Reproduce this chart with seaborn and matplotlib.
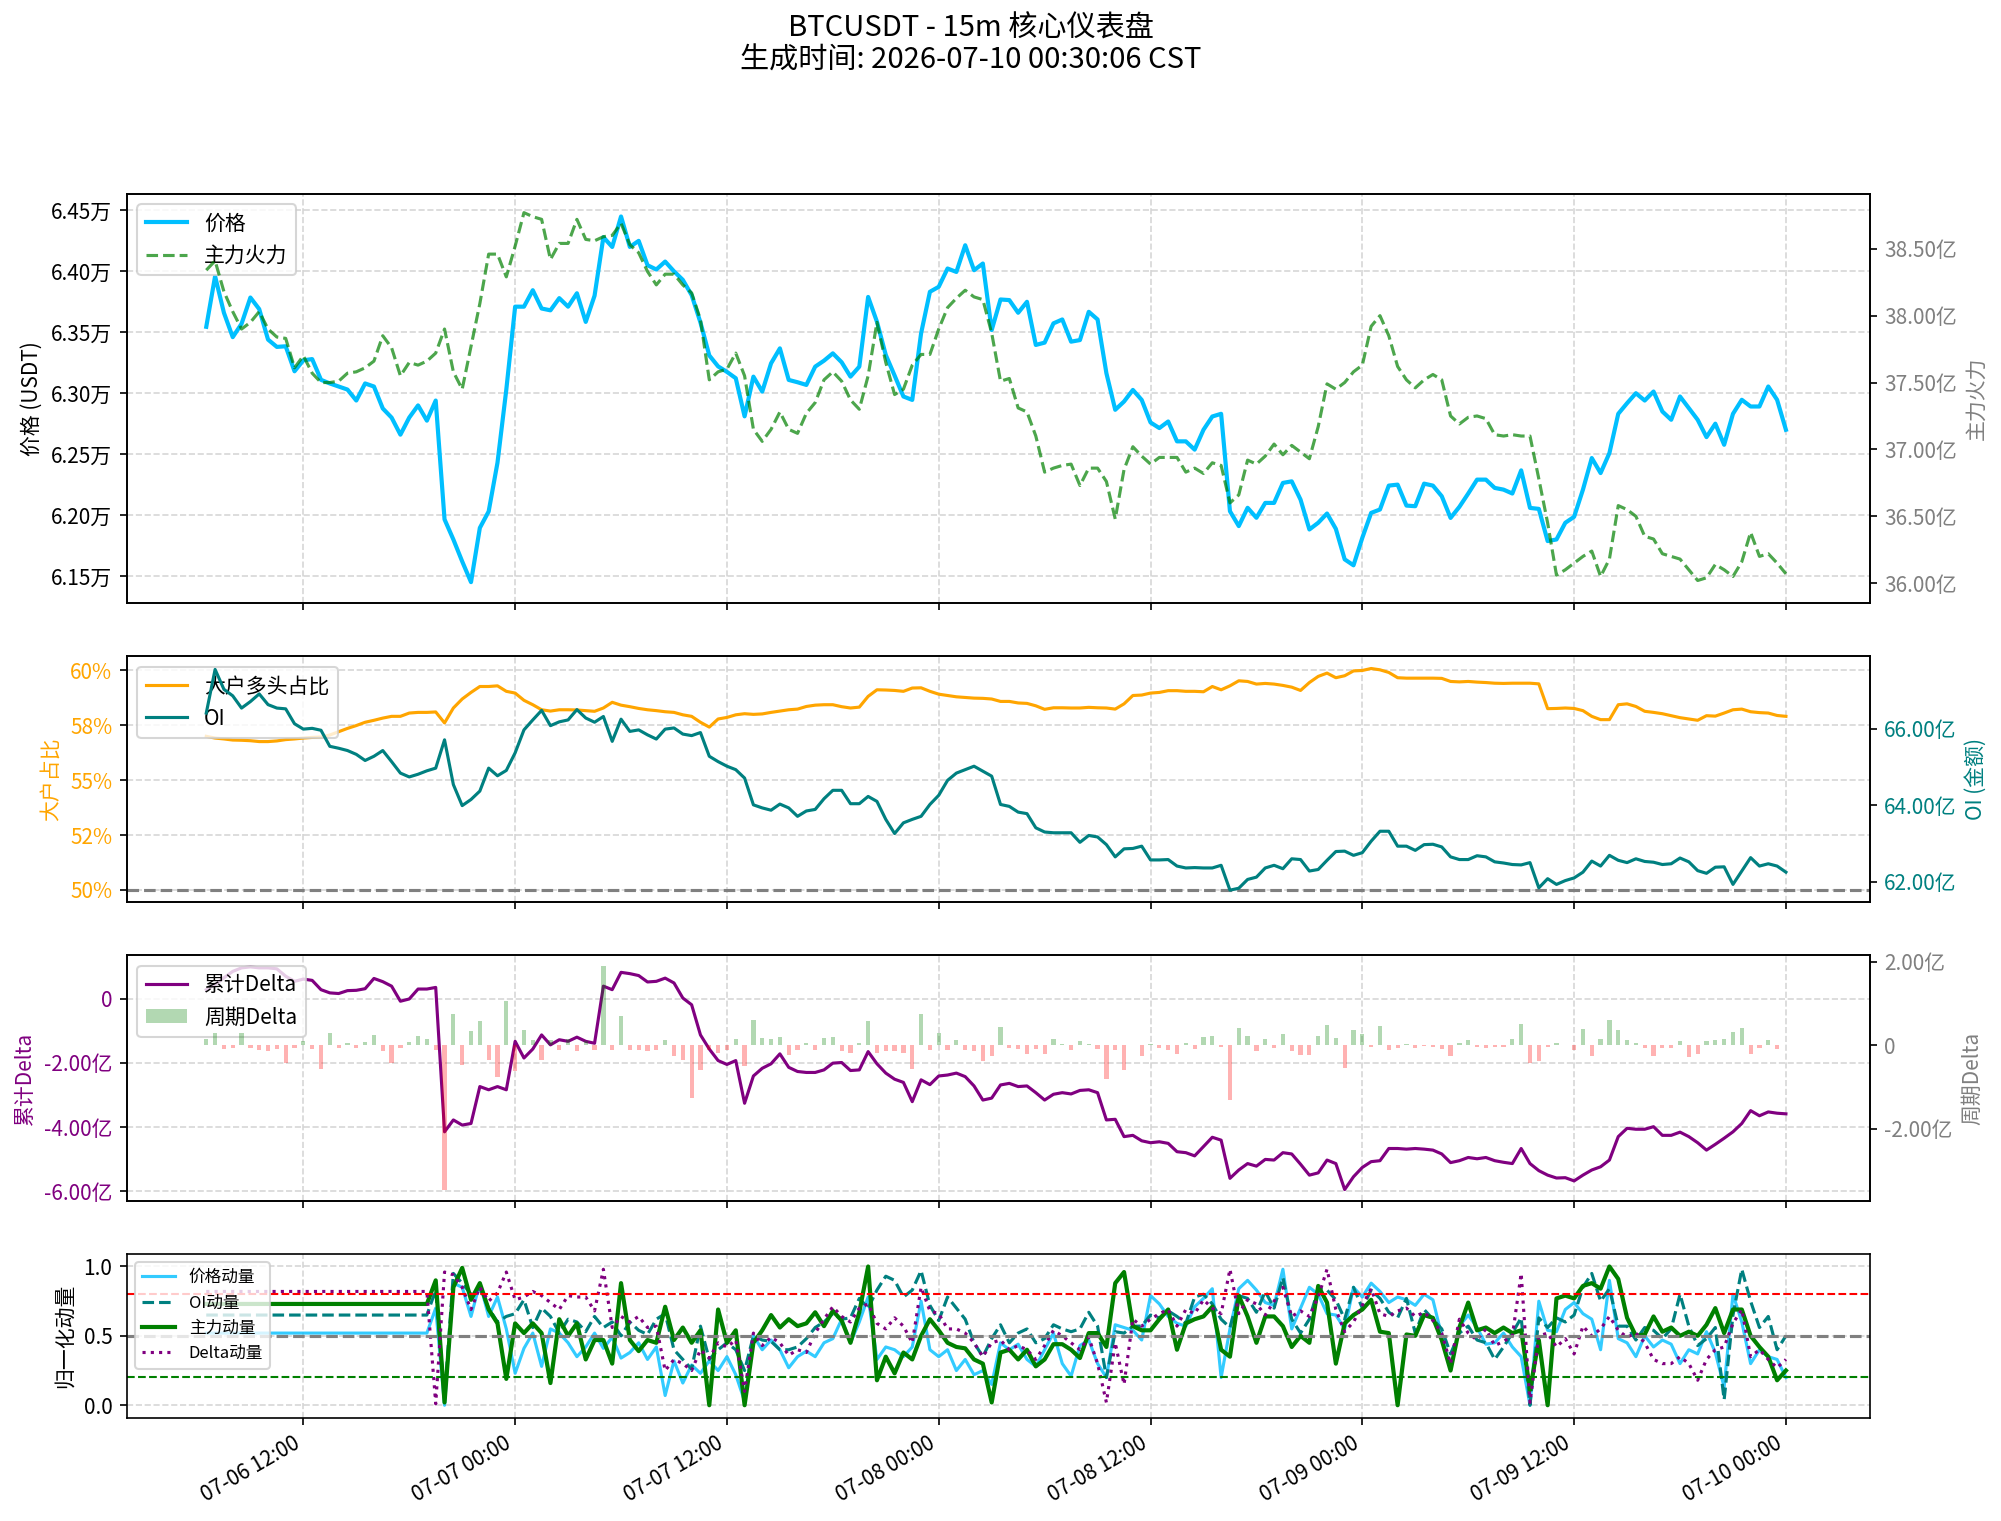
import numpy as np
import pandas as pd
import matplotlib
matplotlib.use("Agg")
import matplotlib.pyplot as plt
import matplotlib.dates as mdates
from matplotlib.ticker import FuncFormatter, MultipleLocator
import seaborn as sns

plt.rcParams['font.family'] = ['Noto Sans CJK SC', 'DejaVu Sans']
plt.rcParams['axes.unicode_minus'] = False

# 30 分钟采样, 2026-07-06 06:30 起
price = [
    63545, 63960, 63660, 63460, 63570, 63785, 63690, 63440, 63380, 63385,
    63180, 63270, 63280, 63110, 63080, 63055, 63030, 62940, 63080, 63055,
    62875, 62800, 62660, 62800, 62900, 62775, 62940, 61965, 61800, 61620,
    61450, 61895, 62030, 62430, 63030, 63710, 63710, 63845, 63695, 63680,
    63780, 63710, 63820, 63585, 63800, 64280, 64200, 64450, 64200, 64250,
    64050, 64015, 64080, 64000, 63930, 63805, 63580, 63310, 63220, 63175,
    63123, 62810, 63136, 63013, 63245, 63368, 63109, 63090, 63068, 63218,
    63267, 63327, 63254, 63136, 63218, 63790, 63586, 63314, 63145, 62973,
    62945, 63491, 63832, 63873, 64023, 63995, 64214, 64009, 64064, 63518,
    63769, 63764, 63660, 63750, 63396, 63415, 63573, 63605, 63423, 63436,
    63668, 63605, 63164, 62864, 62932, 63027, 62945, 62760, 62714, 62768,
    62605, 62605, 62537, 62700, 62809, 62831, 62032, 61910, 62060, 61978,
    62100, 62100, 62264, 62277, 62127, 61882, 61937, 62013, 61887, 61637,
    61588, 61814, 62018, 62046, 62242, 62250, 62078, 62073, 62258, 62242,
    62155, 61977, 62068, 62177, 62291, 62291, 62223, 62209, 62177, 62367,
    62059, 62051, 61787, 61800, 61937, 61986, 62209, 62468, 62345, 62509,
    62831, 62918, 63000, 62940, 63014, 62850, 62782, 62973, 62877, 62782,
    62640, 62750, 62577, 62831, 62946, 62891, 62891, 63055, 62946, 62700,
]

main_force_yi = [
    38.34, 38.41, 38.18, 38.03, 37.90, 37.95, 38.03, 37.90, 37.84, 37.83,
    37.61, 37.70, 37.57, 37.50, 37.50, 37.51, 37.57, 37.58, 37.61, 37.66,
    37.85, 37.76, 37.55, 37.65, 37.63, 37.66, 37.72, 37.90, 37.58, 37.45,
    37.77, 38.09, 38.46, 38.46, 38.29, 38.52, 38.77, 38.74, 38.72, 38.42,
    38.54, 38.54, 38.72, 38.57, 38.56, 38.59, 38.60, 38.69, 38.53, 38.47,
    38.33, 38.23, 38.31, 38.31, 38.23, 38.17, 37.97, 37.52, 37.58, 37.60,
    37.72, 37.55, 37.15, 37.06, 37.15, 37.28, 37.15, 37.12, 37.27, 37.35,
    37.52, 37.58, 37.51, 37.37, 37.30, 37.55, 37.95, 37.65, 37.41, 37.45,
    37.63, 37.71, 37.71, 37.90, 38.06, 38.13, 38.19, 38.14, 38.12, 37.87,
    37.51, 37.53, 37.31, 37.28, 37.10, 36.83, 36.86, 36.88, 36.89, 36.73,
    36.86, 36.86, 36.76, 36.48, 36.85, 37.02, 36.95, 36.89, 36.94, 36.94,
    36.94, 36.83, 36.86, 36.82, 36.90, 36.88, 36.60, 36.66, 36.92, 36.89,
    36.95, 37.04, 36.96, 37.03, 36.98, 36.93, 37.17, 37.49, 37.45, 37.50,
    37.58, 37.63, 37.92, 38.00, 37.85, 37.62, 37.52, 37.46, 37.52, 37.56,
    37.52, 37.25, 37.19, 37.24, 37.25, 37.23, 37.11, 37.10, 37.11, 37.10,
    37.10, 36.78, 36.45, 36.06, 36.10, 36.15, 36.20, 36.24, 36.05, 36.18,
    36.58, 36.55, 36.50, 36.35, 36.33, 36.22, 36.20, 36.18, 36.10, 36.02,
    36.04, 36.14, 36.10, 36.05, 36.16, 36.38, 36.20, 36.22, 36.15, 36.07,
]

long_ratio = [
    57.00, 56.92, 56.88, 56.83, 56.82, 56.80, 56.76, 56.76, 56.79, 56.85,
    56.88, 56.92, 56.95, 56.97, 57.06, 57.21, 57.36, 57.49, 57.64, 57.73,
    57.83, 57.91, 57.91, 58.06, 58.09, 58.09, 58.11, 57.61, 58.29, 58.70,
    59.00, 59.27, 59.27, 59.30, 59.05, 58.97, 58.64, 58.44, 58.21, 58.15,
    58.21, 58.21, 58.20, 58.17, 58.14, 58.29, 58.55, 58.42, 58.35, 58.27,
    58.21, 58.17, 58.12, 58.09, 57.98, 57.91, 57.64, 57.42, 57.79, 57.86,
    57.98, 58.03, 58.00, 58.02, 58.09, 58.15, 58.21, 58.24, 58.36, 58.42,
    58.44, 58.44, 58.35, 58.29, 58.33, 58.82, 59.12, 59.11, 59.09, 59.05,
    59.20, 59.21, 59.05, 58.92, 58.86, 58.80, 58.77, 58.74, 58.73, 58.70,
    58.59, 58.59, 58.52, 58.50, 58.39, 58.23, 58.30, 58.30, 58.29, 58.29,
    58.32, 58.30, 58.29, 58.24, 58.48, 58.86, 58.88, 58.97, 59.00, 59.08,
    59.08, 59.05, 59.05, 59.03, 59.27, 59.12, 59.30, 59.53, 59.50, 59.38,
    59.41, 59.38, 59.32, 59.24, 59.09, 59.45, 59.73, 59.88, 59.67, 59.76,
    59.98, 60.00, 60.09, 60.03, 59.91, 59.67, 59.65, 59.65, 59.65, 59.65,
    59.64, 59.50, 59.48, 59.50, 59.47, 59.45, 59.42, 59.41, 59.42, 59.42,
    59.42, 59.39, 58.26, 58.27, 58.29, 58.27, 58.17, 57.91, 57.76, 57.76,
    58.44, 58.48, 58.36, 58.14, 58.09, 58.03, 57.94, 57.85, 57.79, 57.73,
    57.94, 57.92, 58.06, 58.21, 58.24, 58.12, 58.08, 58.06, 57.95, 57.91,
]

oi_yi = [
    66.41, 67.55, 67.03, 66.86, 66.54, 66.71, 66.91, 66.63, 66.54, 66.52,
    66.13, 65.99, 66.01, 65.96, 65.54, 65.49, 65.43, 65.33, 65.17, 65.28,
    65.43, 65.14, 64.84, 64.74, 64.81, 64.90, 64.97, 65.71, 64.54, 63.99,
    64.15, 64.37, 64.97, 64.77, 64.91, 65.37, 65.97, 66.23, 66.48, 66.08,
    66.18, 66.23, 66.50, 66.28, 66.17, 66.32, 65.67, 66.25, 65.93, 65.97,
    65.84, 65.73, 65.99, 66.02, 65.86, 65.82, 65.90, 65.28, 65.14, 65.02,
    64.93, 64.71, 64.01, 63.93, 63.87, 64.03, 63.93, 63.71, 63.85, 63.89,
    64.17, 64.39, 64.39, 64.04, 64.04, 64.23, 64.10, 63.63, 63.26, 63.54,
    63.63, 63.71, 64.02, 64.26, 64.65, 64.84, 64.93, 65.02, 64.89, 64.76,
    64.02, 63.97, 63.82, 63.78, 63.41, 63.30, 63.28, 63.28, 63.28, 63.03,
    63.21, 63.17, 62.97, 62.65, 62.86, 62.87, 62.93, 62.57, 62.57, 62.58,
    62.41, 62.36, 62.37, 62.36, 62.36, 62.43, 61.78, 61.83, 62.06, 62.12,
    62.36, 62.43, 62.34, 62.60, 62.58, 62.28, 62.32, 62.56, 62.79, 62.80,
    62.69, 62.76, 63.06, 63.32, 63.32, 62.93, 62.93, 62.82, 62.97, 62.98,
    62.91, 62.65, 62.58, 62.58, 62.68, 62.65, 62.52, 62.49, 62.45, 62.44,
    62.50, 61.84, 62.08, 61.93, 62.03, 62.10, 62.25, 62.54, 62.41, 62.69,
    62.56, 62.50, 62.60, 62.53, 62.51, 62.45, 62.47, 62.62, 62.52, 62.29,
    62.22, 62.38, 62.39, 61.93, 62.28, 62.63, 62.41, 62.47, 62.41, 62.25,
]

cum_delta_yi = [
    0.28, 0.44, 0.65, 0.85, 0.96, 0.99, 0.96, 0.96, 0.93, 0.70,
    0.54, 0.61, 0.57, 0.28, 0.18, 0.16, 0.25, 0.26, 0.31, 0.63,
    0.53, 0.39, -0.08, -0.01, 0.30, 0.30, 0.35, -4.15, -3.78, -3.94,
    -3.89, -2.74, -2.84, -2.74, -2.84, -1.33, -1.85, -1.57, -1.13, -1.44,
    -1.28, -1.33, -1.20, -1.33, -1.39, 0.39, 0.28, 0.82, 0.78, 0.72,
    0.52, 0.54, 0.64, 0.49, 0.02, -0.19, -1.13, -1.57, -1.93, -2.05,
    -1.93, -3.26, -2.41, -2.17, -2.03, -1.72, -2.14, -2.27, -2.30, -2.30,
    -2.22, -2.01, -1.99, -2.24, -2.22, -1.65, -2.03, -2.32, -2.51, -2.61,
    -3.21, -2.53, -2.68, -2.41, -2.38, -2.32, -2.43, -2.72, -3.16, -3.10,
    -2.69, -2.64, -2.74, -2.72, -2.93, -3.16, -2.98, -2.93, -2.97, -2.86,
    -2.84, -2.93, -3.78, -3.76, -4.30, -4.26, -4.43, -4.49, -4.46, -4.51,
    -4.77, -4.80, -4.90, -4.61, -4.32, -4.41, -5.60, -5.34, -5.14, -5.22,
    -5.01, -5.03, -4.80, -4.84, -5.16, -5.50, -5.43, -5.03, -5.14, -5.95,
    -5.55, -5.26, -5.08, -5.05, -4.67, -4.67, -4.69, -4.67, -4.69, -4.72,
    -4.84, -5.11, -5.05, -4.95, -4.99, -4.95, -5.05, -5.10, -5.14, -4.67,
    -5.14, -5.36, -5.50, -5.59, -5.58, -5.68, -5.50, -5.34, -5.24, -5.03,
    -4.30, -4.04, -4.07, -4.07, -3.99, -4.26, -4.26, -4.16, -4.30, -4.49,
    -4.72, -4.54, -4.35, -4.15, -3.89, -3.49, -3.65, -3.53, -3.57, -3.59,
]

period_delta_yi = [
    0.15, 0.30, -0.09, -0.05, 0.30, -0.06, -0.10, -0.14, -0.08, -0.41,
    -0.05, 0.10, -0.08, -0.57, 0.30, -0.06, 0.05, -0.05, 0.08, 0.26,
    -0.14, -0.41, -0.05, 0.08, 0.23, 0.15, -0.10, -3.45, 0.76, -0.46,
    0.34, 0.58, -0.34, -0.76, 1.06, -0.62, 0.38, 0.14, -0.34, 0.14,
    -0.10, 0.15, -0.14, 0.10, -0.10, 1.90, -0.10, 0.70, -0.10, -0.10,
    -0.14, -0.10, 0.14, -0.26, -0.36, -1.26, -0.60, -0.10, -0.18, -0.10,
    0.15, -0.50, 0.62, 0.18, 0.15, 0.20, -0.22, -0.10, 0.07, -0.10,
    0.18, 0.20, -0.14, -0.17, 0.06, 0.58, -0.18, -0.14, -0.14, -0.18,
    -0.57, 0.76, -0.10, 0.30, -0.10, 0.12, -0.10, -0.14, -0.38, -0.26,
    0.44, -0.06, -0.09, -0.20, -0.09, -0.20, 0.15, 0.04, -0.10, 0.10,
    0.03, -0.09, -0.81, -0.10, -0.58, 0.02, -0.25, 0.03, -0.06, -0.10,
    -0.20, 0.06, -0.09, 0.20, 0.23, -0.04, -1.30, 0.42, 0.22, -0.14,
    0.15, -0.06, 0.28, -0.14, -0.22, -0.22, 0.23, 0.50, 0.18, -0.54,
    0.38, 0.28, -0.04, 0.46, -0.10, -0.06, 0.04, -0.06, -0.02, -0.04,
    -0.09, -0.26, 0.06, 0.14, -0.04, -0.06, -0.04, -0.04, 0.15, 0.52,
    -0.41, -0.38, -0.04, 0.06, 0.02, -0.10, 0.39, -0.25, 0.15, 0.60,
    0.36, 0.12, 0.07, -0.06, -0.25, -0.06, -0.06, 0.10, -0.28, -0.20,
    0.10, 0.12, 0.15, 0.31, 0.42, -0.20, -0.06, 0.14, -0.09, 0.02,
]

mom_price = [
    0.52, 0.52, 0.52, 0.52, 0.52, 0.52, 0.52, 0.52, 0.52, 0.52,
    0.52, 0.52, 0.52, 0.52, 0.52, 0.52, 0.52, 0.52, 0.52, 0.52,
    0.52, 0.52, 0.52, 0.52, 0.52, 0.52, 0.70, 0.00, 0.88, 0.85,
    0.64, 0.88, 0.64, 0.78, 0.55, 0.23, 0.41, 0.52, 0.28, 0.55,
    0.52, 0.45, 0.35, 0.42, 0.52, 0.41, 0.49, 0.34, 0.38, 0.45,
    0.33, 0.42, 0.07, 0.32, 0.16, 0.29, 0.23, 0.32, 0.25, 0.35,
    0.22, 0.03, 0.50, 0.40, 0.47, 0.40, 0.27, 0.35, 0.39, 0.35,
    0.45, 0.48, 0.62, 0.45, 0.60, 0.78, 0.33, 0.42, 0.40, 0.35,
    0.42, 0.75, 0.40, 0.35, 0.40, 0.25, 0.33, 0.22, 0.25, 0.15,
    0.45, 0.40, 0.44, 0.33, 0.28, 0.40, 0.52, 0.30, 0.21, 0.43,
    0.47, 0.30, 0.20, 0.58, 0.56, 0.54, 0.47, 0.79, 0.73, 0.64,
    0.59, 0.57, 0.71, 0.77, 0.84, 0.20, 0.55, 0.84, 0.90, 0.83,
    0.74, 0.72, 0.98, 0.55, 0.70, 0.85, 0.80, 0.66, 0.65, 0.55,
    0.85, 0.78, 0.88, 0.82, 0.74, 0.78, 0.76, 0.72, 0.80, 0.76,
    0.50, 0.26, 0.57, 0.65, 0.56, 0.44, 0.45, 0.52, 0.42, 0.35,
    0.00, 0.75, 0.54, 0.53, 0.69, 0.74, 0.66, 0.62, 0.40, 0.90,
    0.48, 0.45, 0.35, 0.50, 0.42, 0.47, 0.44, 0.30, 0.40, 0.37,
    0.53, 0.38, 0.13, 0.80, 0.60, 0.30, 0.40, 0.35, 0.33, 0.20,
]

mom_oi = [
    0.65, 0.65, 0.65, 0.65, 0.65, 0.65, 0.65, 0.65, 0.65, 0.65,
    0.65, 0.65, 0.65, 0.65, 0.65, 0.65, 0.65, 0.65, 0.65, 0.65,
    0.65, 0.65, 0.65, 0.65, 0.65, 0.65, 0.83, 0.05, 0.95, 0.88,
    0.80, 0.84, 0.70, 0.60, 0.64, 0.66, 0.76, 0.56, 0.70, 0.64,
    0.52, 0.62, 0.60, 0.53, 0.64, 0.56, 0.60, 0.50, 0.60, 0.54,
    0.51, 0.62, 0.66, 0.40, 0.33, 0.26, 0.57, 0.33, 0.40, 0.45,
    0.40, 0.25, 0.50, 0.47, 0.46, 0.40, 0.40, 0.42, 0.48, 0.56,
    0.60, 0.66, 0.62, 0.63, 0.77, 0.70, 0.83, 0.93, 0.90, 0.78,
    0.83, 0.97, 0.72, 0.61, 0.78, 0.70, 0.62, 0.45, 0.35, 0.48,
    0.58, 0.45, 0.52, 0.55, 0.45, 0.48, 0.58, 0.55, 0.53, 0.55,
    0.67, 0.57, 0.20, 0.53, 0.52, 0.57, 0.57, 0.65, 0.63, 0.68,
    0.64, 0.59, 0.78, 0.80, 0.73, 0.62, 0.56, 0.79, 0.77, 0.67,
    0.82, 0.70, 0.92, 0.62, 0.52, 0.62, 0.84, 0.83, 0.76, 0.62,
    0.85, 0.70, 0.83, 0.77, 0.67, 0.63, 0.77, 0.52, 0.69, 0.62,
    0.55, 0.37, 0.52, 0.57, 0.47, 0.45, 0.33, 0.42, 0.52, 0.63,
    0.00, 0.63, 0.56, 0.63, 0.60, 0.65, 0.85, 0.95, 0.75, 0.84,
    0.57, 0.57, 0.47, 0.56, 0.54, 0.48, 0.55, 0.80, 0.57, 0.43,
    0.48, 0.56, 0.04, 0.65, 0.98, 0.75, 0.56, 0.64, 0.40, 0.50,
]

mom_main = [
    0.73, 0.73, 0.73, 0.73, 0.73, 0.73, 0.73, 0.73, 0.73, 0.73,
    0.73, 0.73, 0.73, 0.73, 0.73, 0.73, 0.73, 0.73, 0.73, 0.73,
    0.73, 0.73, 0.73, 0.73, 0.73, 0.73, 0.90, 0.02, 0.85, 0.99,
    0.76, 0.88, 0.69, 0.59, 0.19, 0.59, 0.52, 0.59, 0.52, 0.16,
    0.62, 0.50, 0.59, 0.33, 0.47, 0.47, 0.30, 0.88, 0.47, 0.39,
    0.47, 0.45, 0.71, 0.47, 0.56, 0.45, 0.54, 0.00, 0.69, 0.45,
    0.54, 0.00, 0.45, 0.54, 0.65, 0.56, 0.62, 0.57, 0.59, 0.67,
    0.57, 0.68, 0.61, 0.45, 0.67, 1.00, 0.18, 0.35, 0.23, 0.38,
    0.33, 0.50, 0.62, 0.54, 0.45, 0.42, 0.41, 0.33, 0.30, 0.02,
    0.38, 0.40, 0.33, 0.40, 0.28, 0.33, 0.44, 0.44, 0.40, 0.34,
    0.52, 0.52, 0.42, 0.88, 0.96, 0.57, 0.54, 0.54, 0.62, 0.69,
    0.40, 0.59, 0.62, 0.64, 0.71, 0.40, 0.35, 0.79, 0.64, 0.45,
    0.64, 0.64, 0.57, 0.42, 0.50, 0.45, 0.86, 0.74, 0.30, 0.59,
    0.65, 0.69, 0.76, 0.53, 0.52, 0.00, 0.51, 0.50, 0.65, 0.63,
    0.47, 0.25, 0.56, 0.74, 0.54, 0.56, 0.52, 0.56, 0.52, 0.54,
    0.11, 0.47, 0.00, 0.77, 0.79, 0.77, 0.86, 0.88, 0.84, 1.00,
    0.91, 0.63, 0.50, 0.51, 0.64, 0.53, 0.56, 0.50, 0.53, 0.50,
    0.58, 0.70, 0.52, 0.69, 0.69, 0.50, 0.42, 0.35, 0.18, 0.25,
]

mom_delta = [
    0.82, 0.82, 0.82, 0.82, 0.82, 0.82, 0.82, 0.82, 0.82, 0.82,
    0.82, 0.82, 0.82, 0.82, 0.82, 0.82, 0.82, 0.82, 0.82, 0.82,
    0.82, 0.82, 0.82, 0.82, 0.82, 0.82, 0.01, 0.96, 0.94, 0.85,
    0.69, 0.85, 0.75, 0.81, 0.96, 0.76, 0.78, 0.82, 0.79, 0.74,
    0.69, 0.79, 0.78, 0.78, 0.68, 0.98, 0.56, 0.64, 0.60, 0.64,
    0.56, 0.57, 0.25, 0.33, 0.30, 0.25, 0.40, 0.34, 0.45, 0.42,
    0.47, 0.10, 0.52, 0.43, 0.49, 0.45, 0.36, 0.40, 0.38, 0.52,
    0.62, 0.71, 0.64, 0.60, 0.70, 0.73, 0.59, 0.55, 0.63, 0.57,
    0.45, 0.85, 0.68, 0.66, 0.55, 0.55, 0.52, 0.45, 0.35, 0.45,
    0.47, 0.40, 0.43, 0.40, 0.33, 0.43, 0.54, 0.50, 0.45, 0.40,
    0.49, 0.30, 0.02, 0.45, 0.15, 0.62, 0.57, 0.62, 0.66, 0.69,
    0.57, 0.69, 0.66, 0.76, 0.70, 0.66, 0.98, 0.66, 0.76, 0.73,
    0.65, 0.75, 0.85, 0.64, 0.68, 0.64, 0.78, 0.98, 0.69, 0.53,
    0.60, 0.72, 0.84, 0.66, 0.64, 0.68, 0.70, 0.64, 0.67, 0.61,
    0.52, 0.30, 0.62, 0.52, 0.47, 0.55, 0.43, 0.46, 0.50, 0.95,
    0.02, 0.50, 0.52, 0.42, 0.48, 0.37, 0.57, 0.50, 0.55, 0.64,
    0.54, 0.49, 0.52, 0.45, 0.33, 0.30, 0.30, 0.35, 0.30, 0.18,
    0.33, 0.40, 0.42, 0.59, 0.69, 0.35, 0.40, 0.33, 0.27, 0.33,
]

times = pd.date_range("2026-07-06 06:30", periods=len(price), freq="30min")
YI = 1e8


def fmt_wan(v, pos):
    return f"{v / 1e4:.2f}万"


def fmt_yi(v, pos):
    if abs(v) < 1e-6:
        return "0"
    return f"{v / YI:.2f}亿"


def fmt_pct(v, pos):
    return f"{v:.0f}%"


def merged_legend(ax, other, **kw):
    h1, l1 = ax.get_legend_handles_labels()
    h2, l2 = other.get_legend_handles_labels()
    ax.legend(h1 + h2, l1 + l2, loc="upper left", **kw)


fig, axes = plt.subplots(
    4, 1, sharex=True, figsize=(13.34, 10.14), dpi=150,
    gridspec_kw=dict(height_ratios=[2.5, 1.5, 1.5, 1], left=0.0635, right=0.9343,
                     top=0.8725, bottom=0.0679, hspace=0.2))
ax1, ax2, ax3, ax4 = axes

# 价格 + 主力火力
sns.lineplot(x=times, y=price, ax=ax1, color="deepskyblue", linewidth=2, label="价格", legend=False)
ax1b = ax1.twinx()
sns.lineplot(x=times, y=np.array(main_force_yi) * YI, ax=ax1b, color="green", linestyle="--",
             linewidth=1.5, alpha=0.7, label="主力火力", legend=False)
ax1.yaxis.set_major_locator(MultipleLocator(500))
ax1.yaxis.set_major_formatter(FuncFormatter(fmt_wan))
ax1.set_ylim(61277, 64635)
ax1b.yaxis.set_major_locator(MultipleLocator(0.5 * YI))
ax1b.yaxis.set_major_formatter(FuncFormatter(fmt_yi))
ax1b.set_ylim(35.85 * YI, 38.91 * YI)
ax1.set_ylabel("价格 (USDT)")
ax1b.set_ylabel("主力火力", color="gray")
ax1b.tick_params(axis="y", labelcolor="gray")
merged_legend(ax1, ax1b)

# 大户多头占比 + OI
sns.lineplot(x=times, y=long_ratio, ax=ax2, color="orange", linewidth=1.5, label="大户多头占比", legend=False)
ax2.axhline(50, color="gray", linestyle="--", linewidth=1.5)
ax2b = ax2.twinx()
sns.lineplot(x=times, y=np.array(oi_yi) * YI, ax=ax2b, color="teal", linewidth=1.5, label="OI", legend=False)
ax2.yaxis.set_major_locator(MultipleLocator(2.5))
ax2.yaxis.set_major_formatter(FuncFormatter(fmt_pct))
ax2.set_ylim(49.45, 60.64)
ax2b.yaxis.set_major_locator(MultipleLocator(2 * YI))
ax2b.yaxis.set_major_formatter(FuncFormatter(fmt_yi))
ax2b.set_ylim(61.47 * YI, 67.89 * YI)
ax2.set_ylabel("大户占比", color="orange")
ax2.tick_params(axis="y", labelcolor="orange")
ax2b.set_ylabel("OI (金额)", color="teal")
ax2b.tick_params(axis="y", labelcolor="teal")
merged_legend(ax2, ax2b)

# 累计 Delta + 周期 Delta
sns.lineplot(x=times, y=np.array(cum_delta_yi) * YI, ax=ax3, color="purple", linewidth=1.5,
             label="累计Delta", legend=False)
ax3b = ax3.twinx()
bar_colors = ["green" if v > 0 else "red" for v in period_delta_yi]
ax3b.bar(times, np.array(period_delta_yi) * YI, width=0.01, color=bar_colors, alpha=0.3, label="周期Delta")
ax3.yaxis.set_major_locator(MultipleLocator(2 * YI))
ax3.yaxis.set_major_formatter(FuncFormatter(fmt_yi))
ax3.set_ylim(-6.30 * YI, 1.354 * YI)
ax3b.yaxis.set_major_locator(MultipleLocator(2 * YI))
ax3b.yaxis.set_major_formatter(FuncFormatter(fmt_yi))
ax3b.set_ylim(-3.72 * YI, 2.16 * YI)
ax3.set_ylabel("累计Delta", color="purple")
ax3.tick_params(axis="y", labelcolor="purple")
ax3b.set_ylabel("周期Delta", color="gray")
ax3b.tick_params(axis="y", labelcolor="gray")
merged_legend(ax3, ax3b)

# 归一化动量
sns.lineplot(x=times, y=mom_price, ax=ax4, color="deepskyblue", linewidth=1.5, alpha=0.8,
             label="价格动量", legend=False)
sns.lineplot(x=times, y=mom_oi, ax=ax4, color="teal", linestyle="--", linewidth=1.5,
             label="OI动量", legend=False)
sns.lineplot(x=times, y=mom_main, ax=ax4, color="green", linewidth=2, label="主力动量", legend=False)
sns.lineplot(x=times, y=mom_delta, ax=ax4, color="purple", linestyle=":", linewidth=1.5,
             label="Delta动量", legend=False)
ax4.axhline(0.8, color="red", linestyle="--", linewidth=1)
ax4.axhline(0.5, color="gray", linestyle="--", linewidth=1.5)
ax4.axhline(0.2, color="green", linestyle="--", linewidth=1)
ax4.yaxis.set_major_locator(MultipleLocator(0.5))
ax4.set_ylim(-0.09, 1.09)
ax4.set_ylabel("归一化动量")
ax4.legend(loc="upper left", fontsize=8)

for ax in axes:
    ax.grid(True, linestyle="--", alpha=0.5)

start = pd.Timestamp("2026-07-06 06:30")
end = pd.Timestamp("2026-07-10 00:15")
pad = (end - start) * 0.05
ax4.set_xlim(start - pad, end + pad)
ax4.xaxis.set_major_locator(mdates.HourLocator(byhour=[0, 12]))
ax4.xaxis.set_major_formatter(mdates.DateFormatter("%m-%d %H:%M"))
ax4.set_xlabel("")
plt.setp(ax4.get_xticklabels(), rotation=30, ha="right")

fig.suptitle("BTCUSDT - 15m 核心仪表盘\n生成时间: 2026-07-10 00:30:06 CST",
             fontsize=14, x=0.485, y=0.991, va="top", linespacing=1.1)

fig.savefig("out.png", dpi=150)
